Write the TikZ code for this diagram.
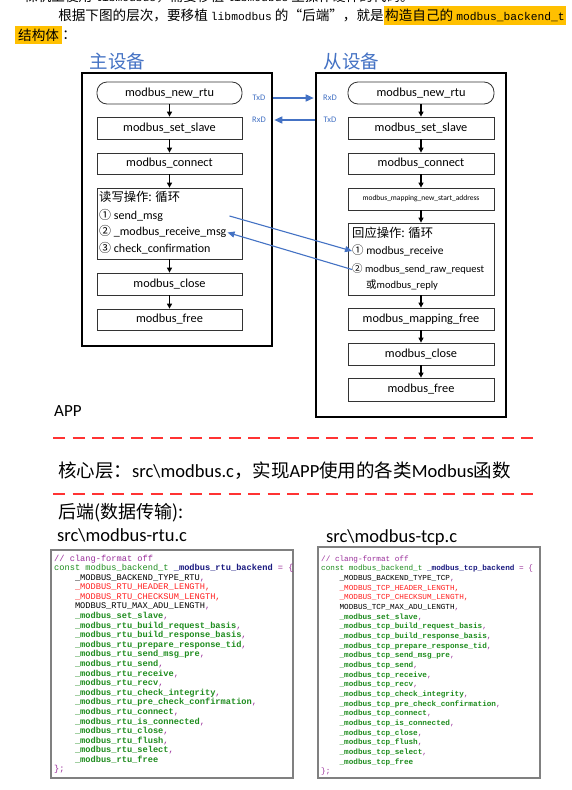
\documentclass[tikz,border=0pt]{standalone}
\usepackage{fontspec}
\setmainfont{Carlito}
\newfontfamily\cjk{Noto Sans CJK SC}
\newfontfamily\codefont{Liberation Mono}
\usepackage{xcolor}
\usetikzlibrary{arrows.meta, positioning}
\definecolor{hostblue}{HTML}{4472C4}
\definecolor{sepred}{HTML}{FF3333}
\definecolor{markyel}{HTML}{FFC000}
\definecolor{codepur}{HTML}{9A2E9A}
\definecolor{codegrn}{HTML}{1E8C1E}
\definecolor{codenavy}{HTML}{1A1A80}
\definecolor{codered}{HTML}{FF2020}
\definecolor{boxgrey}{HTML}{808080}
\newcommand\lat[1]{{\codefont\fontsize{11.3}{13}\selectfont #1}}
\newcommand\cp{\color{codepur}}
\newcommand\fn[1]{{\bfseries\color{codegrn}#1}{\cp,}}
\tikzset{
  host/.style={draw, line width=2.6pt, minimum width=190pt, inner sep=0pt},
  func/.style={draw=black!80, line width=0.8pt, minimum width=145pt,
    minimum height=22pt, inner sep=0pt, font=\fontsize{12.3}{14}\selectfont},
  looptxt/.style={anchor=west, inner sep=0pt, text height=9pt, text depth=3pt},
  flow/.style={-{Triangle[length=5pt,width=5pt]}, line width=1.1pt},
  link/.style={-{Triangle[length=8pt,width=7pt]}, hostblue, line width=1.5pt},
  xlink/.style={-{Triangle[length=7pt,width=6pt]}, hostblue, line width=1.1pt},
  pin/.style={font=\fontsize{8.5}{10}\selectfont, text=hostblue, inner sep=0pt},
  title/.style={font=\cjk\fontsize{18.5}{20}\selectfont, text=hostblue, inner sep=0pt},
  layer/.style={anchor=west, inner sep=0pt, font=\fontsize{18.5}{21}\selectfont},
  para/.style={inner sep=0pt, font=\cjk\fontsize{13.6}{16}\selectfont},
  sep/.style={sepred, line width=2pt, dash pattern=on 12pt off 7.5pt},
  codebox/.style={draw=boxgrey, line width=1.2pt},
  codeline/.style={anchor=west, inner sep=0pt, text height=6pt, text depth=2pt}
}
\begin{document}
\begin{tikzpicture}[x=1pt, y=-1pt]
  \useasboundingbox[fill=white] (0,0) rectangle (571,790);

  % Text above the diagram
  \node[para, anchor=west] (l1) at (24,-3.5) {裸机上使用 \lat{libmodbus}，需要移植 \lat{libmodbus} 里操作硬件的代码。};
  \node[para, anchor=west, fill=markyel, minimum height=19pt, inner xsep=1pt] (l2b) at (384,15.5) {构造自己的 \lat{modbus\_backend\_t}};
  \node[para, anchor=east] (l2a) at (l2b.west) {根据下图的层次，要移植 \lat{libmodbus} 的“后端”，就是};
  \node[para, anchor=west, fill=markyel, minimum height=18pt, inner xsep=3pt] (l3a) at (15,35) {结构体};
  \node[para, right=0pt of l3a] (l3b) {：};

  % Titles
  \node[title] (master) at (117.5,61) {主设备};
  \node[title] (slave) at (351.5,61) {从设备};

  % Outer boxes
  \node[host, minimum height=273pt] (lhost) at (177,209.5) {};
  \node[host, minimum height=344pt] (rhost) at (411,245) {};

  % Master side
  \node[func, rounded corners=10pt] (lnew) at (169.5,93) {modbus\_new\_rtu};
  \node[func] (lslave) at (169.5,128) {modbus\_set\_slave};
  \node[func, minimum height=21pt] (lconn) at (169.5,163.5) {modbus\_connect};
  \node[func, minimum height=71pt] (lloop) at (169.5,223.5) {};
  \node[func] (lclose) at (169.5,284) {modbus\_close};
  \node[func, minimum height=21pt] (lfree) at (169.5,319.5) {modbus\_free};
  \node[looptxt, font=\cjk\fontsize{12.3}{14}\selectfont] (lt0) at (99,198) {读写操作: 循环};
  \node[looptxt, font=\fontsize{12}{14}\selectfont] (lt1) at (99,216) {{\cjk ①} send\_msg};
  \node[looptxt, font=\fontsize{12}{14}\selectfont] (lt2) at (99,232.5) {{\cjk ②} \_modbus\_receive\_msg};
  \node[looptxt, font=\fontsize{12}{14}\selectfont] (lt3) at (99,249) {{\cjk ③} check\_confirmation};

  % Slave side
  \node[func, rounded corners=10pt, minimum width=146pt] (rnew) at (421,93) {modbus\_new\_rtu};
  \node[func, minimum width=146pt] (rslave) at (421,128) {modbus\_set\_slave};
  \node[func, minimum width=146pt, minimum height=21pt] (rconn) at (421,163.5) {modbus\_connect};
  \node[func, minimum width=146pt, font=\fontsize{7.5}{9}\selectfont] (rmap) at (421,199) {modbus\_mapping\_new\_start\_address};
  \node[func, minimum width=146pt, minimum height=72pt] (rloop) at (421,259) {};
  \node[func, minimum width=146pt] (rmapfree) at (421,319) {modbus\_mapping\_free};
  \node[func, minimum width=146pt] (rclose) at (421,354) {modbus\_close};
  \node[func, minimum width=146pt, minimum height=23pt] (rfree) at (421,389.5) {modbus\_free};
  \node[looptxt, font=\cjk\fontsize{12.3}{14}\selectfont] (rt0) at (352,234) {回应操作: 循环};
  \node[looptxt, font=\fontsize{11.5}{14}\selectfont] (rt1) at (352,251) {{\cjk ①} modbus\_receive};
  \node[looptxt, font=\fontsize{10.5}{13}\selectfont] (rt2) at (352,269.5) {{\cjk ②} modbus\_send\_raw\_request};
  \node[looptxt, font=\fontsize{10.5}{13}\selectfont] (rt3) at (366,285) {{\cjk 或}modbus\_reply};

  % Flow arrows
  \foreach \a/\b in {lnew/lslave, lslave/lconn, lconn/lloop, lloop/lclose, lclose/lfree,
                     rnew/rslave, rslave/rconn, rconn/rmap, rmap/rloop, rloop/rmapfree,
                     rmapfree/rclose, rclose/rfree}
    \draw[flow] (\a.south) -- (\b.north);

  % Serial lines
  \node[pin] (ltx) at (259,98) {TxD};
  \node[pin] (lrx) at (259,120) {RxD};
  \node[pin] (rrx) at (330,98) {RxD};
  \node[pin] (rtx) at (330,120) {TxD};
  \draw[link, shorten >=1pt] (ltx.east -| lhost.east) -- (rrx.west -| rhost.west);
  \draw[link, shorten >=1pt] (rtx.west -| rhost.west) -- (lrx.east -| lhost.east);

  % Request and reply
  \coordinate (sendend) at ([xshift=3pt]lt2.east |- lt1.east);
  \draw[xlink] (sendend) -- (rt1.west);
  \draw[xlink] (rt2.west) -- ([xshift=1pt]lt2.east);

  % Layers
  \node[layer, font=\fontsize{17}{20}\selectfont] (app) at (54,411) {APP};
  \draw[sep] (53,438) -- (535,438);
  \node[layer] (core) at (58,471) {{\cjk 核心层：}src\textbackslash modbus.c{\cjk ，实现}APP{\cjk 使用的各类}Modbus{\cjk 函数}};
  \draw[sep] (53,494) -- (535,494);
  \node[layer, font=\cjk\fontsize{18}{21}\selectfont] (backend) at (58,513) {后端(数据传输):};
  \node[layer] (rtufile) at (57,535) {src\textbackslash modbus-rtu.c};
  \node[layer] (tcpfile) at (326,538) {src\textbackslash modbus-tcp.c};

  % Backend tables
  \draw[codebox] (51,550) rectangle (293,778);
  \draw[codebox] (318,547) rectangle (540,778);
  \foreach \bk/\BK/\x/\sz/\dy in {rtu/RTU/54/8.67/9.59, tcp/TCP/321/7.67/9.68} {
    \begin{scope}[every node/.append style={font=\codefont\fontsize{\sz}{\sz}\selectfont}]
      \node[codeline] at (\x,559) {\color{codepur}// clang-format off};
      \node[codeline] at (\x,{559+\dy}) {\color{codegrn}const modbus\_backend\_t {\bfseries\color{codenavy}\_modbus\_\bk\_backend} {\cp= \{}};
      \foreach \txt [count=\i from 2] in {
          {\_MODBUS\_BACKEND\_TYPE\_\BK{\cp,}},
          {\color{codered}\_MODBUS\_\BK\_HEADER\_LENGTH,},
          {\color{codered}\_MODBUS\_\BK\_CHECKSUM\_LENGTH,},
          {MODBUS\_\BK\_MAX\_ADU\_LENGTH{\cp,}},
          {\fn{\_modbus\_set\_slave}},
          {\fn{\_modbus\_\bk\_build\_request\_basis}},
          {\fn{\_modbus\_\bk\_build\_response\_basis}},
          {\fn{\_modbus\_\bk\_prepare\_response\_tid}},
          {\fn{\_modbus\_\bk\_send\_msg\_pre}},
          {\fn{\_modbus\_\bk\_send}},
          {\fn{\_modbus\_\bk\_receive}},
          {\fn{\_modbus\_\bk\_recv}},
          {\fn{\_modbus\_\bk\_check\_integrity}},
          {\fn{\_modbus\_\bk\_pre\_check\_confirmation}},
          {\fn{\_modbus\_\bk\_connect}},
          {\fn{\_modbus\_\bk\_is\_connected}},
          {\fn{\_modbus\_\bk\_close}},
          {\fn{\_modbus\_\bk\_flush}},
          {\fn{\_modbus\_\bk\_select}},
          {{\bfseries\color{codegrn}\_modbus\_\bk\_free}}}
        \node[codeline] at ({\x+2.4*\sz},{559+\i*\dy}) {\txt};
      \node[codeline] at (\x,{559+22*\dy}) {\color{codepur}\};};
    \end{scope}
  }
\end{tikzpicture}
\end{document}
